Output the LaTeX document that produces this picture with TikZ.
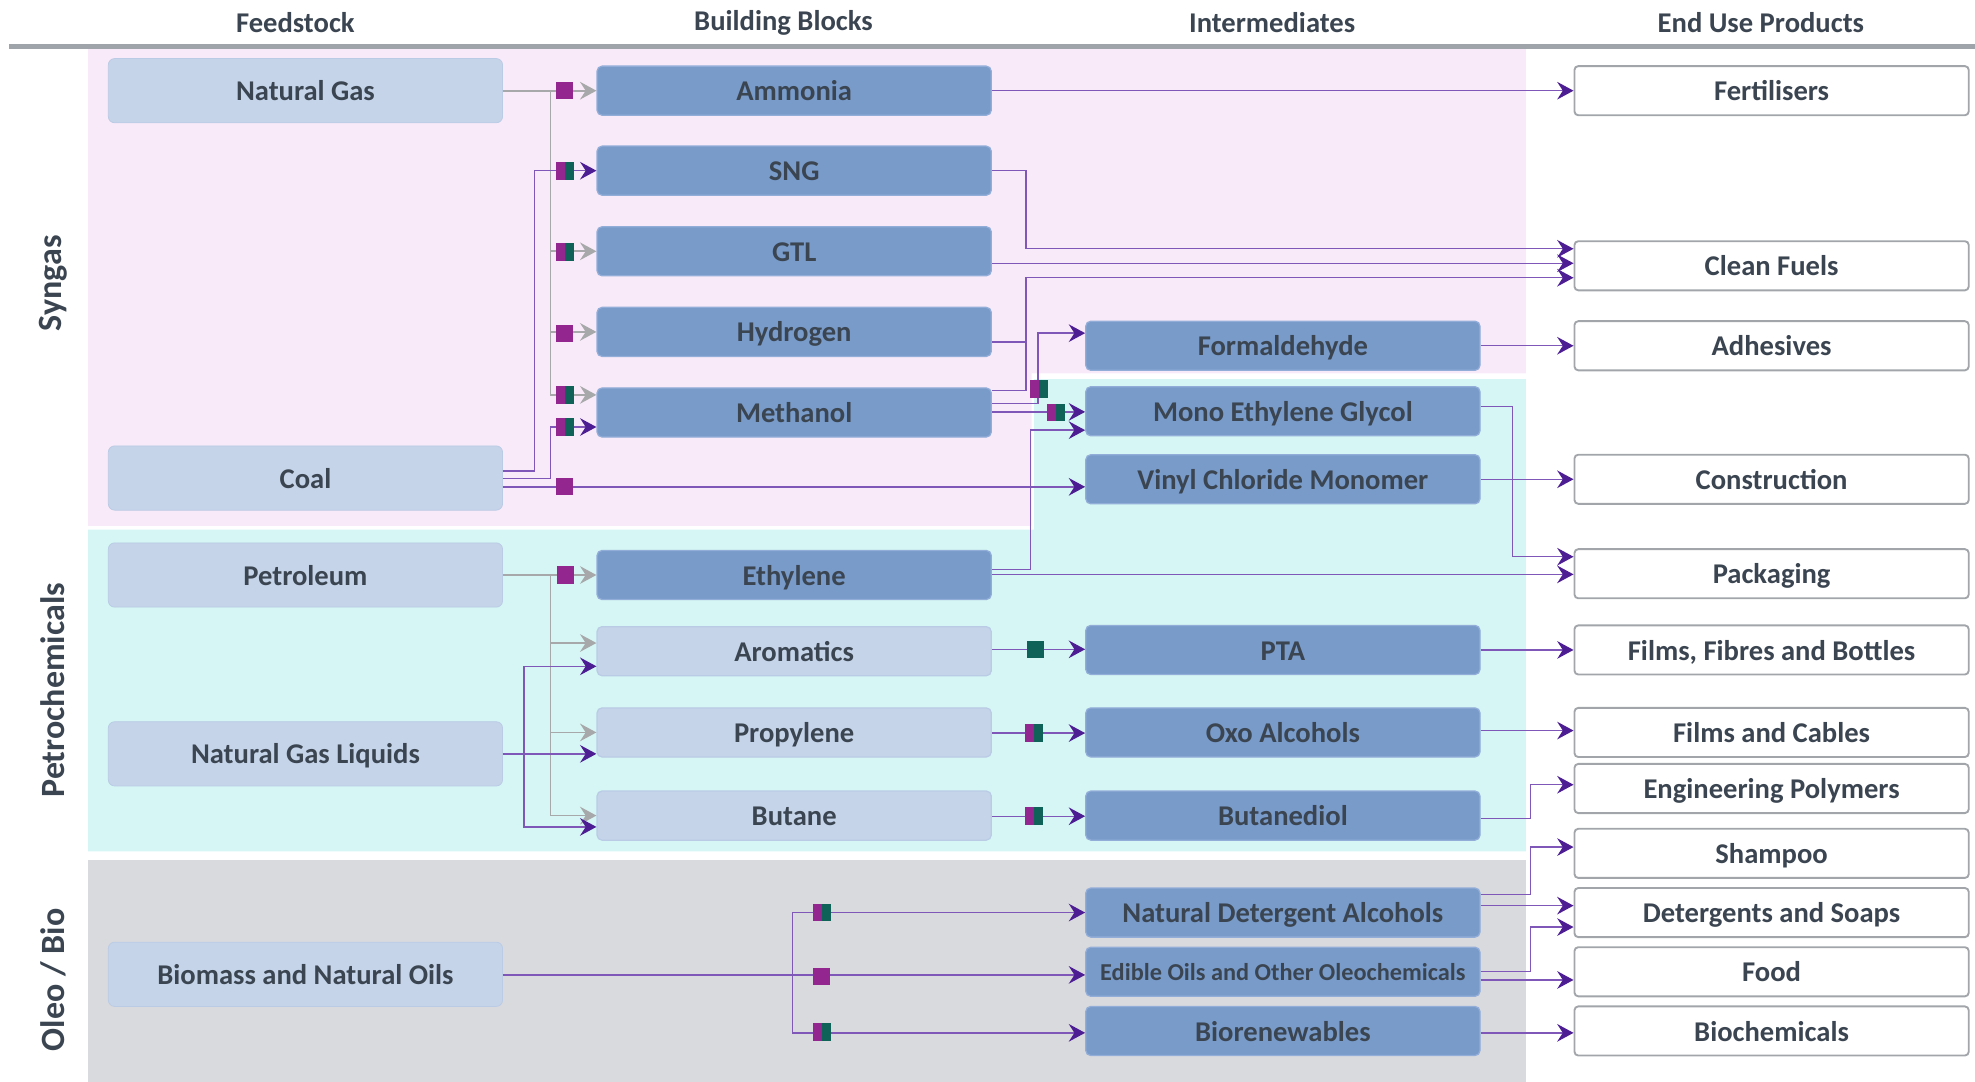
\documentclass[tikz,border=0pt]{standalone}
\usepackage{fontspec}
\setmainfont{Carlito}
\usetikzlibrary{arrows.meta,calc}

\definecolor{bandpink}{HTML}{F8EAF8}
\definecolor{bandcyan}{HTML}{D5F6F4}
\definecolor{bandgrey}{HTML}{D9DADD}
\definecolor{feedfill}{HTML}{C5D4E9}
\definecolor{feededge}{HTML}{BACBE5}
\definecolor{blockfill}{HTML}{789BCA}
\definecolor{blockedge}{HTML}{93ADD9}
\definecolor{endedge}{HTML}{A2A6AB}
\definecolor{txt}{HTML}{3B4551}
\definecolor{pline}{HTML}{7E57B8}
\definecolor{parrow}{HTML}{4D1E93}
\definecolor{gline}{HTML}{A7A8AA}
\definecolor{mkmag}{HTML}{93278F}
\definecolor{mkteal}{HTML}{0F6257}
\definecolor{rulegrey}{HTML}{9EA4A9}

\tikzset{
  basebox/.style={rectangle, rounded corners=4pt, minimum width=313pt, inner sep=0pt, text=txt,
    text height=17.5pt, text depth=1.5pt},
  feedbox/.style={basebox, fill=feedfill, draw=feededge, line width=0.6pt, minimum height=51pt, rounded corners=5pt},
  blockbox/.style={basebox, fill=blockfill, draw=blockedge, line width=1pt, minimum height=39pt},
  lightbox/.style={basebox, fill=feedfill, draw=feededge, line width=1pt, minimum height=39pt},
  endbox/.style={basebox, fill=white, draw=endedge, line width=1.5pt, minimum height=39pt, rounded corners=3pt},
  smalltext/.style={font=\bfseries\fontsize{19.3}{22}\selectfont, text height=15pt, text depth=1.2pt},
  colhead/.style={text=txt},
  rowhead/.style={text=txt, rotate=90, font=\bfseries\fontsize{27}{30}\selectfont},
  ptip/.tip={Stealth[length=13pt,width=14pt,inset=4.5pt,color=parrow]},
  gtip/.tip={Stealth[length=13pt,width=14pt,inset=4.5pt,color=gline]},
  pl/.style={draw=pline, line width=1.1pt, -ptip},
  plj/.style={draw=pline, line width=1.1pt},
  gl/.style={draw=gline, line width=1.3pt, -gtip},
  mkone/.pic={\fill[mkmag] (-6.75,-6.75) rectangle (6.75,6.75);},
  mktwo/.pic={\fill[mkmag] (-7,-7) rectangle (0,7); \fill[mkteal] (0,-7) rectangle (7,7);},
  mkgreen/.pic={\fill[mkteal] (-6.75,-6.75) rectangle (6.75,6.75);}
}

\begin{document}
\begin{tikzpicture}[x=1pt, y=-1pt, font=\bfseries\fontsize{22.7}{26}\selectfont]
\useasboundingbox (0,0) rectangle (1568,859);

% sector bands
\fill[bandpink] (70,39) -- (1211.5,39) -- (1211.5,296.5) -- (819,296.5) -- (819,417.5) -- (70,417.5) -- cycle;
\fill[bandcyan] (821,301) -- (1211.5,301) -- (1211.5,676) -- (70,676) -- (70,420.5) -- (821,420.5) -- cycle;
\fill[bandgrey] (70,682.5) rectangle (1211.5,859);

% column headings and rule
\draw[rulegrey, line width=4pt] (7,37) -- (1568,37);
\node[colhead] (hfeed) at (234.5,18) {Feedstock};
\node[colhead] (hblock) at (622,18) {Building Blocks};
\node[colhead] (hinter) at (1010,18) {Intermediates};
\node[colhead] (hend) at (1398,18) {End Use Products};

% sector labels
\node[rowhead] (rsyn) at (42,225) {Syngas};
\node[rowhead] (rpet) at (42,548) {Petrochemicals};
\node[rowhead] (rbio) at (42,778) {Oleo / Bio};

% feedstocks
\node[feedbox] (ng)   at (242.5,72)    {Natural Gas};
\node[feedbox] (coal) at (242.5,379.5) {Coal};
\node[feedbox] (pet)  at (242.5,456.5) {Petroleum};
\node[feedbox] (ngl)  at (242.5,598.5) {Natural Gas Liquids};
\node[feedbox] (bio)  at (242.5,773.5) {Biomass and Natural Oils};

% building blocks
\node[blockbox] (amm)  at (630.5,72)    {Ammonia};
\node[blockbox] (sng)  at (630.5,135.5) {SNG};
\node[blockbox] (gtl)  at (630.5,199.5) {GTL};
\node[blockbox] (hyd)  at (630.5,263.5) {Hydrogen};
\node[blockbox] (meth) at (630.5,327.5) {Methanol};
\node[blockbox] (eth)  at (630.5,456.5) {Ethylene};
\node[lightbox] (arom) at (630.5,517)   {Aromatics};
\node[lightbox] (prop) at (630.5,581.5) {Propylene};
\node[lightbox] (but)  at (630.5,647.5) {Butane};

% intermediates
\node[blockbox] (form) at (1018.5,274.5) {Formaldehyde};
\node[blockbox] (meg)  at (1018.5,326.5) {Mono Ethylene Glycol};
\node[blockbox] (vcm)  at (1018.5,380.5) {Vinyl Chloride Monomer};
\node[blockbox] (pta)  at (1018.5,516)   {PTA};
\node[blockbox] (oxo)  at (1018.5,581.5) {Oxo Alcohols};
\node[blockbox] (bdo)  at (1018.5,647.5) {Butanediol};
\node[blockbox] (nda)  at (1018.5,724.5) {Natural Detergent Alcohols};
\node[blockbox, smalltext] (edo) at (1018.5,771.5) {Edible Oils and Other Oleochemicals};
\node[blockbox] (bren) at (1018.5,818.5) {Biorenewables};

% end use products
\node[endbox] (fert)  at (1406.5,72)    {Fertilisers};
\node[endbox] (cf)    at (1406.5,211)   {Clean Fuels};
\node[endbox] (adh)   at (1406.5,274.5) {Adhesives};
\node[endbox] (cons)  at (1406.5,380.5) {Construction};
\node[endbox] (pack)  at (1406.5,455.5) {Packaging};
\node[endbox] (ffb)   at (1406.5,516)   {Films, Fibres and Bottles};
\node[endbox] (fc)    at (1406.5,581.5) {Films and Cables};
\node[endbox] (ep)    at (1406.5,626)   {Engineering Polymers};
\node[endbox] (sham)  at (1406.5,677.5) {Shampoo};
\node[endbox] (ds)    at (1406.5,724.5) {Detergents and Soaps};
\node[endbox] (food)  at (1406.5,771.5) {Food};
\node[endbox] (bchem) at (1406.5,818.5) {Biochemicals};

% trunk positions of the branching connectors
\coordinate (gtA) at (437,0);
\coordinate (ptA) at (424.3,0);
\coordinate (ptN) at (416,0);
\coordinate (iA)  at (814.5,0);
\coordinate (iB)  at (824,0);
\coordinate (iE)  at (818,0);
\coordinate (oA)  at (1201,0);
\coordinate (oB)  at (1215,0);
\coordinate (bT)  at (629,0);

% natural gas
\draw[gl] (ng.east) -- (amm.west);
\draw[gl] (gtA |- ng.east) |- (gtl.west);
\draw[gl] (gtA |- ng.east) |- (hyd.west);
\draw[gl] (gtA |- ng.east) |- (meth.west |- 0,313.5);

% coal
\draw[pl] (coal.east |- 0,374) -| (ptA |- sng.west) -- (sng.west);
\draw[pl] (coal.east |- 0,380) -| (gtA |- 0,339) -- (meth.west |- 0,339);
\draw[pl] (coal.east |- 0,386.5) -- (vcm.west |- 0,386.5);

% petroleum
\draw[gl] (pet.east) -- (eth.west);
\draw[gl] (gtA |- pet.east) |- (arom.west |- 0,510.5);
\draw[gl] (gtA |- pet.east) |- (prop.west);
\draw[gl] (gtA |- pet.east) |- (but.west);

% natural gas liquids
\draw[pl] (ngl.east) -- (prop.west |- ngl.east);
\draw[pl] (ptN |- ngl.east) |- (arom.west |- 0,529);
\draw[pl] (ptN |- ngl.east) |- (but.west |- 0,656.5);

% building blocks onwards
\draw[pl] (amm.east) -- (fert.west);
\draw[pl] (sng.east) -| (iA |- 0,197.5) -- (cf.west |- 0,197.5);
\draw[pl] (gtl.east |- 0,209) -- (cf.west |- 0,209);
\draw[pl] (meth.east |- 0,310) -| (iA |- 0,220.5) -- (cf.west |- 0,220.5);
\draw[plj] (hyd.east |- 0,271.5) -- (iA |- 0,271.5);
\draw[pl] (meth.east |- 0,320.5) -| (iB |- 0,264.5) -- (form.west |- 0,264.5);
\draw[pl] (meth.east |- 0,327) -- (meg.west |- 0,327);
\draw[pl] (eth.east |- 0,452) -| (iE |- 0,341.5) -- (meg.west |- 0,341.5);
\draw[pl] (eth.east |- 0,456) -- (pack.west |- 0,456);
\draw[pl] (arom.east |- 0,515.5) -- (pta.west |- 0,515.5);
\draw[pl] (prop.east |- 0,582) -- (oxo.west |- 0,582);
\draw[pl] (but.east |- 0,648) -- (bdo.west |- 0,648);

% intermediates onwards
\draw[pl] (form.east) -- (adh.west);
\draw[pl] (meg.east |- 0,322.5) -| (oA |- 0,442) -- (pack.west |- 0,442);
\draw[pl] (vcm.east) -- (cons.west);
\draw[pl] (pta.east) -- (ffb.west);
\draw[pl] (oxo.east |- 0,580) -- (fc.west |- 0,580);
\draw[pl] (bdo.east |- 0,650) -| (oB |- 0,623) -- (ep.west |- 0,623);
\draw[pl] (nda.east |- 0,710) -| (oB |- 0,672.5) -- (sham.west |- 0,672.5);
\draw[pl] (nda.east |- 0,719) -- (ds.west |- 0,719);
\draw[pl] (edo.east |- 0,771.5) -| (oB |- 0,736) -- (ds.west |- 0,736);
\draw[pl] (edo.east |- 0,778) -- (food.west |- 0,778);
\draw[pl] (bren.east |- 0,820) -- (bchem.west |- 0,820);

% biomass
\draw[pl] (bio.east |- 0,774) -- (edo.west |- 0,774);
\draw[pl] (bT |- 0,774) |- (nda.west);
\draw[pl] (bT |- 0,774) |- (bren.west |- 0,820);

% process markers
\pic at (448.5,72) {mkone};
\pic at (448.5,136) {mktwo};
\pic at (448.5,200) {mktwo};
\pic at (448.5,264.5) {mkone};
\pic at (448.5,313.5) {mktwo};
\pic at (448.5,339) {mktwo};
\pic at (448.5,386.5) {mkone};
\pic at (449,456.5) {mkone};
\pic at (825,309) {mktwo};
\pic at (838.5,327.5) {mktwo};
\pic at (822,515.5) {mkgreen};
\pic at (821,582) {mktwo};
\pic at (821,648) {mktwo};
\pic at (652.5,724.5) {mktwo};
\pic at (652.5,775) {mkone};
\pic at (652.5,819.5) {mktwo};
\end{tikzpicture}
\end{document}
